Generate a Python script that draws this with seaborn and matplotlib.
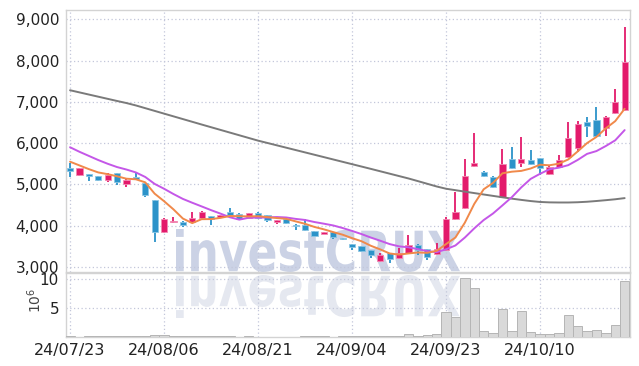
import numpy as np
import pandas as pd
import matplotlib
matplotlib.use("Agg")
import matplotlib.pyplot as plt
import seaborn as sns
from matplotlib.textpath import TextPath
from matplotlib.patches import PathPatch
from matplotlib.font_manager import FontProperties
from matplotlib.transforms import Affine2D
from matplotlib.ticker import FuncFormatter

# ---------------- data ----------------
tick_pos = [0, 10, 20, 30, 40, 50]
tick_labels = ["24/07/23", "24/08/06", "24/08/21", "24/09/04", "24/09/23", "24/10/10"]

opens = [5390, 5225, 5250, 5200, 5104, 5266, 5007, 5169, 5024, 4620,
         3853, 4100, 4090, 4090, 4180, 4230, 4210, 4330, 4280, 4190,
         4300, 4255, 4090, 4160, 4015, 4015, 3870, 3800, 3845, 3700,
         3555, 3500, 3410, 3150, 3340, 3215, 3340, 3530, 3435, 3310,
         3410, 4160, 4425, 5440, 5300, 5175, 4690, 5610, 5515, 5590,
         5635, 5250, 5420, 5660, 5880, 6510, 6560, 6360, 6725, 6800]
highs = [5515, 5400, 5260, 5210, 5265, 5280, 5150, 5266, 5040, 4630,
         4180, 4210, 4110, 4330, 4350, 4240, 4270, 4420, 4300, 4310,
         4320, 4270, 4150, 4175, 4040, 4160, 3880, 3855, 3855, 3710,
         3565, 3510, 3420, 3330, 3350, 3460, 3775, 3560, 3445, 3580,
         4200, 4820, 5610, 6240, 5320, 5200, 5855, 5900, 6150, 5830,
         5650, 5440, 5710, 6510, 6530, 6630, 6870, 6650, 7300, 8810]
lows = [5176, 5210, 5080, 5090, 5060, 4990, 4935, 5120, 4700, 3610,
        3830, 4065, 3970, 4070, 4170, 4010, 4200, 4230, 4130, 4180,
        4170, 4085, 4030, 4050, 3895, 3870, 3740, 3790, 3690, 3665,
        3410, 3370, 3230, 3110, 3100, 3190, 3330, 3290, 3170, 3290,
        3380, 4130, 4400, 5410, 5170, 4920, 4660, 5370, 5420, 5470,
        5230, 5230, 5400, 5640, 5780, 6150, 6160, 6170, 6700, 6780]
closes = [5320, 5390, 5200, 5110, 5225, 5055, 5104, 5135, 4740, 3853,
          4153, 4115, 4020, 4180, 4330, 4160, 4255, 4250, 4160, 4300,
          4190, 4140, 4135, 4065, 3995, 3895, 3760, 3845, 3730, 3680,
          3480, 3390, 3290, 3290, 3190, 3340, 3530, 3410, 3245, 3430,
          4160, 4330, 5200, 5515, 5200, 4940, 5490, 5395, 5610, 5490,
          5400, 5420, 5590, 6120, 6460, 6410, 6170, 6630, 6990, 7960]

ma5 = [5550, 5460, 5370, 5290, 5248, 5196, 5138, 5124, 5050, 4776,
       4594, 4396, 4174, 4062, 4158, 4160, 4189, 4235, 4231, 4225,
       4231, 4208, 4185, 4166, 4105, 4046, 3970, 3912, 3845, 3782,
       3699, 3625, 3514, 3426, 3328, 3300, 3328, 3352, 3343, 3391,
       3555, 3715, 4073, 4527, 4881, 5037, 5269, 5308, 5327, 5385,
       5477, 5463, 5502, 5604, 5798, 6000, 6150, 6358, 6532, 6832]
ma10 = [5900, 5790, 5690, 5590, 5500, 5420, 5360, 5290, 5180, 5012,
        4895, 4767, 4649, 4556, 4467, 4377, 4293, 4205, 4147, 4192,
        4196, 4199, 4210, 4199, 4165, 4139, 4089, 4049, 4006, 3944,
        3873, 3798, 3713, 3636, 3555, 3500, 3477, 3433, 3385, 3360,
        3428, 3522, 3713, 3935, 4136, 4296, 4492, 4691, 4927, 5133,
        5257, 5366, 5405, 5466, 5592, 5739, 5807, 5930, 6068, 6315]
ma60 = [7280, 7228, 7176, 7124, 7072, 7020, 6970, 6912, 6846, 6780,
        6714, 6648, 6582, 6516, 6450, 6385, 6320, 6255, 6190, 6125,
        6060, 6003, 5946, 5889, 5832, 5775, 5718, 5661, 5604, 5547,
        5490, 5433, 5376, 5318, 5260, 5202, 5144, 5080, 5015, 4950,
        4895, 4860, 4825, 4790, 4756, 4722, 4688, 4655, 4625, 4597,
        4575, 4565, 4562, 4562, 4568, 4580, 4598, 4618, 4640, 4668]

volume_m = [0.15, 0.08, 0.12, 0.14, 0.10, 0.12, 0.13, 0.12, 0.15, 0.35,
            0.30, 0.10, 0.14, 0.09, 0.10, 0.13, 0.12, 0.12, 0.08, 0.13,
            0.06, 0.06, 0.05, 0.07, 0.08, 0.12, 0.11, 0.12, 0.07, 0.09,
            0.15, 0.13, 0.13, 0.14, 0.14, 0.16, 0.55, 0.15, 0.35, 0.47,
            4.3, 3.45, 10.2, 8.45, 1.1, 0.7, 4.8, 1.1, 4.5, 0.86,
            0.5, 0.5, 0.7, 3.8, 1.9, 1.1, 1.2, 0.75, 2.07, 9.65]

df = pd.DataFrame({"idx": np.arange(len(closes)), "open": opens, "high": highs,
                   "low": lows, "close": closes, "ma5": ma5, "ma10": ma10,
                   "ma60": ma60, "vol": volume_m})

# ---------------- style ----------------
sns.set_style("white")
plt.rcParams["font.family"] = ["Liberation Sans Narrow", "DejaVu Sans"]

UP = "#e31a6b"
DOWN = "#2c93c9"
GRID = "#c3c7da"
SPINE = "#d3d3d3"

W, H = 639, 366
fig = plt.figure(figsize=(W / 100, H / 100), dpi=100)
fig.patch.set_facecolor("white")

L, R = 66, 630
ax = fig.add_axes([L / W, 1 - 272 / H, (R - L) / W, (272 - 9.5) / H])
axv = fig.add_axes([L / W, 1 - 337 / H, (R - L) / W, (337 - 273) / H], sharex=ax)
for a in (ax, axv):
    a.set_facecolor("none")
    for s in a.spines.values():
        s.set_color(SPINE)
        s.set_linewidth(1.0)
    a.grid(True, linestyle=(0, (1, 2)), color=GRID, linewidth=0.9)
    a.tick_params(length=0)

# ---------------- watermark ----------------
fp = FontProperties(family="DejaVu Sans", weight="bold")
tp = TextPath((0, 0), "investCRUX", size=100, prop=fp)
ext = tp.get_extents()
x0, x1 = 176, 460
sx = (x1 - x0) / ext.width
sy = (H - 229 - (H - 272)) / ext.height
tr_main = Affine2D().translate(-ext.x0, -ext.y0).scale(sx, sy).translate(x0, H - 272)
tr_refl = Affine2D().translate(-ext.x0, -ext.y0).scale(sx, -sy).translate(x0, H - 275)
p1 = PathPatch(tp, transform=tr_main, facecolor="#cbd2e5", edgecolor="none", zorder=-5)
p2 = PathPatch(tp, transform=tr_refl, facecolor="#e5e8f0", edgecolor="none", zorder=-5)
fig.add_artist(p1)
fig.add_artist(p2)

# ---------------- candles ----------------
colors = [UP if c >= o else DOWN for o, c in zip(df["open"], df["close"])]
edges = ["#f38ab3" if c >= o else "#8cc6e4" for o, c in zip(df["open"], df["close"])]
ax.vlines(df["idx"], df["low"], df["high"], colors=colors, linewidth=1.3, zorder=3)
bottoms = np.minimum(df["open"], df["close"])
heights = np.maximum(np.abs(df["close"] - df["open"]), 18)
ax.bar(df["idx"], heights, bottom=bottoms, width=0.66, color=colors,
       edgecolor=edges, linewidth=0.6, zorder=4)

sns.lineplot(data=df, x="idx", y="ma60", ax=ax, color="#7a7a7a", linewidth=1.4, zorder=5)
sns.lineplot(data=df, x="idx", y="ma10", ax=ax, color="#c457e8", linewidth=1.4, zorder=6)
sns.lineplot(data=df, x="idx", y="ma5", ax=ax, color="#f0894a", linewidth=1.4, zorder=7)

ax.set_xlim(-0.43, 59.57)
ax.set_ylim(2879, 9235)
ax.set_yticks([3000, 4000, 5000, 6000, 7000, 8000, 9000])
ax.yaxis.set_major_formatter(FuncFormatter(lambda v, p: f"{int(v):,}"))
ax.set_xlabel("")
ax.set_ylabel("")
ax.tick_params(axis="y", labelsize=11, labelcolor="#222222", pad=5)
ax.tick_params(axis="x", labelbottom=False)

# ---------------- volume ----------------
axv.bar(df["idx"], df["vol"], width=1.0, color="#d9d9d9", edgecolor="#b5b5b5",
        linewidth=0.7, zorder=3)
axv.set_ylim(0, 11.0)
axv.set_yticks([5, 10])
axv.set_yticklabels(["5", "10"])
axv.tick_params(axis="y", labelsize=11, labelcolor="#222222", pad=5)
axv.set_xticks(tick_pos)
axv.set_xticklabels(tick_labels)
axv.tick_params(axis="x", labelsize=11.5, labelcolor="#222222", pad=4)
ax.set_xticks(tick_pos)
fig.text(35 / W, 1 - 300 / H, r"$10^6$", rotation=90, ha="center", va="center",
         fontsize=10, color="#444444")

fig.savefig("out.png", dpi=100)
